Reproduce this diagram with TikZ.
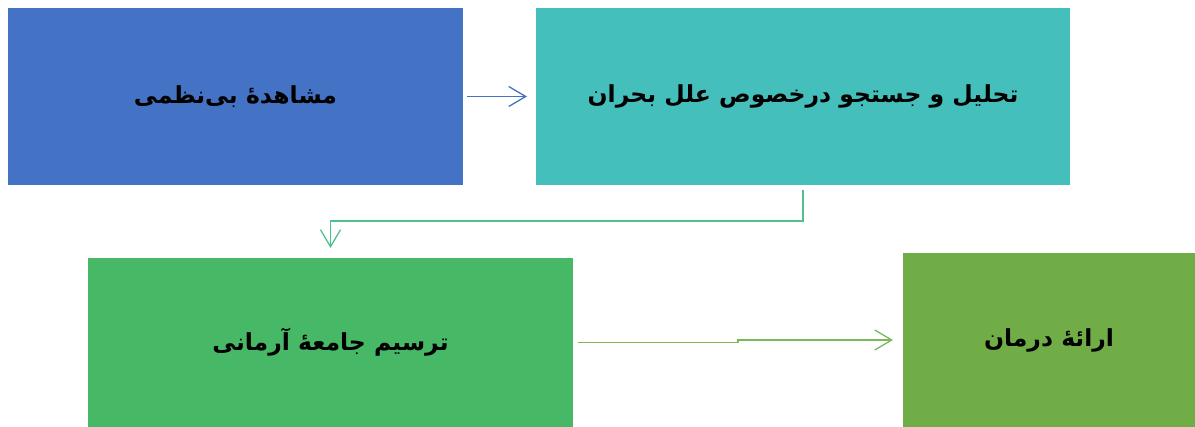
\documentclass[tikz,border=0pt]{standalone}
\usepackage{fontspec}
\usetikzlibrary{arrows.meta}
\TeXXeTstate=1
\newfontfamily\arabicfont[Script=Arabic]{DejaVu Sans}
\definecolor{cblue}{HTML}{4472C4}
\definecolor{cteal}{HTML}{45BFBB}
\definecolor{cgreen}{HTML}{47B866}
\definecolor{colive}{HTML}{70AD47}
\definecolor{ctealline}{HTML}{4CC38E}
\definecolor{cgreenline}{HTML}{7AB85A}
\tikzset{
  box/.style={inner sep=0pt, outer sep=0pt, font=\arabicfont\bfseries\fontsize{23.5}{28}\selectfont, text=black},
  conn/.style={line width=1.3pt, -{Straight Barb[length=17pt,width=20pt,line width=1.3pt]}},
}
\begin{document}
\begin{tikzpicture}[x=1pt,y=-1pt]
\useasboundingbox (0,0) rectangle (1195,427);
\node[box, fill=cblue, minimum width=455pt, minimum height=177pt] (b1) at (235.5,96.5) {\beginR مشاهدهٔ بی‌نظمی\endR};
\node[box, fill=cteal, minimum width=534pt, minimum height=177pt] (b2) at (803,96.5) {\beginR تحلیل و جستجو درخصوص علل بحران\endR};
\node[box, fill=cgreen, minimum width=485pt, minimum height=169pt] (b3) at (330.5,342.5) {\beginR ترسیم جامعهٔ آرمانی\endR};
\node[box, fill=colive, minimum width=292pt, minimum height=174pt] (b4) at (1049,340) {\beginR ارائهٔ درمان\endR};
\draw[conn, cblue, shorten <=4pt, shorten >=9pt] (b1.east) -- (b2.west);
\draw[conn, ctealline, shorten <=5pt, shorten >=10pt] (b2.south) -- ++(0,36) -| (b3.north);
\draw[conn, cgreenline, shorten <=5pt, shorten >=10pt] (b3.east) -- ++(165,0) |- (b4.west);
\end{tikzpicture}
\end{document}
